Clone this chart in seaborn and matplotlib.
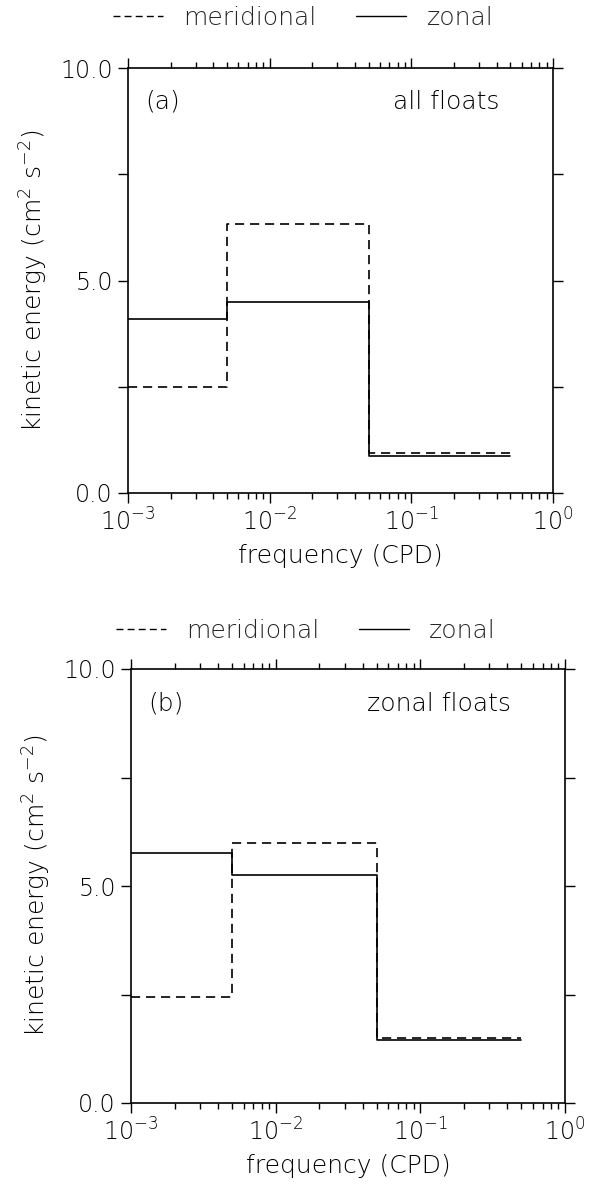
import numpy as np
import pandas as pd
import matplotlib
matplotlib.use("Agg")
import matplotlib.pyplot as plt
import seaborn as sns
from matplotlib.ticker import LogLocator, FixedLocator, FormatStrFormatter, NullFormatter
from matplotlib.lines import Line2D

# ---- data ----
freq_edges = [1e-3, 5e-3, 5e-2, 5e-1]          # band edges (CPD)
a_meridional = [2.49, 6.32, 0.93]               # panel (a) all floats
a_zonal = [4.10, 4.49, 0.87]
b_meridional = [2.45, 6.00, 1.50]               # panel (b) zonal floats
b_zonal = [5.75, 5.25, 1.46]
panel_labels = ["(a)", "(b)"]
panel_titles = ["all floats", "zonal floats"]
series_names = ["meridional", "zonal"]
y_major = [0.0, 5.0, 10.0]
y_minor = [2.5, 7.5]

sns.set_theme(style="white")
plt.rcParams["font.family"] = ["DejaVu Sans"]
plt.rcParams["font.weight"] = "light"
plt.rcParams["axes.labelweight"] = "light"
plt.rcParams["mathtext.default"] = "regular"
FS = 18

fig = plt.figure(figsize=(5.89, 11.93), dpi=100)
W, H = 589.0, 1193.0
axes_px = [(128, 68, 553, 493), (131, 669, 565, 1103)]
legend_y = [1.09, 1.06]

def steps(vals):
    return list(vals) + [vals[-1]]

panels = [(a_meridional, a_zonal), (b_meridional, b_zonal)]
for i, ((mer, zon), (l, t, r, b)) in enumerate(zip(panels, axes_px)):
    ax = fig.add_axes([l / W, 1 - b / H, (r - l) / W, (b - t) / H])
    df_m = pd.DataFrame({"f": freq_edges, "ke": steps(mer)})
    df_z = pd.DataFrame({"f": freq_edges, "ke": steps(zon)})
    sns.lineplot(data=df_m, x="f", y="ke", ax=ax, color="black", lw=1.2,
                 drawstyle="steps-post", estimator=None, sort=False,
                 linestyle=(0, (5.5, 3.5)))
    sns.lineplot(data=df_z, x="f", y="ke", ax=ax, color="black", lw=1.2,
                 drawstyle="steps-post", estimator=None, sort=False)
    ax.set_xscale("log")
    ax.set_xlim(1e-3, 1e0)
    ax.set_ylim(0, 10)
    ax.xaxis.set_major_locator(LogLocator(base=10, numticks=10))
    ax.xaxis.set_minor_locator(LogLocator(base=10, subs=np.arange(2, 10), numticks=20))
    ax.xaxis.set_minor_formatter(NullFormatter())
    ax.yaxis.set_major_locator(FixedLocator(y_major))
    ax.yaxis.set_minor_locator(FixedLocator(y_minor))
    ax.yaxis.set_major_formatter(FormatStrFormatter("%.1f"))
    ax.tick_params(which="both", direction="out", top=True, right=True,
                   bottom=True, left=True, labelsize=FS - 1, color="black",
                   labelcolor="black", width=1.0)
    ax.tick_params(which="major", length=7, pad=4)
    ax.tick_params(axis="x", which="minor", length=4)
    ax.tick_params(axis="y", which="minor", length=7)
    for s in ax.spines.values():
        s.set_visible(True)
        s.set_color("black")
        s.set_linewidth(1.2)
    ax.set_xlabel("frequency (CPD)", fontsize=FS, color="black", labelpad=6)
    ax.set_ylabel("kinetic energy (cm$^2$ s$^{-2}$)", fontsize=FS, color="black", labelpad=7)
    ax.text(0.04, 0.92, panel_labels[i], transform=ax.transAxes, fontsize=FS,
            ha="left", va="center", color="black")
    ax.text(0.875, 0.92, panel_titles[i], transform=ax.transAxes, fontsize=FS,
            ha="right", va="center", color="black")
    handles = [Line2D([], [], color="black", lw=1.0, linestyle=(0, (5, 3))),
               Line2D([], [], color="black", lw=1.0)]
    ax.legend(handles, series_names, loc="lower left", bbox_to_anchor=(-0.035, legend_y[i]),
              ncol=2, frameon=False, fontsize=FS, handlelength=2.0,
              columnspacing=1.6, handletextpad=0.8, borderaxespad=0, borderpad=0)

fig.savefig("out.png", dpi=100)
